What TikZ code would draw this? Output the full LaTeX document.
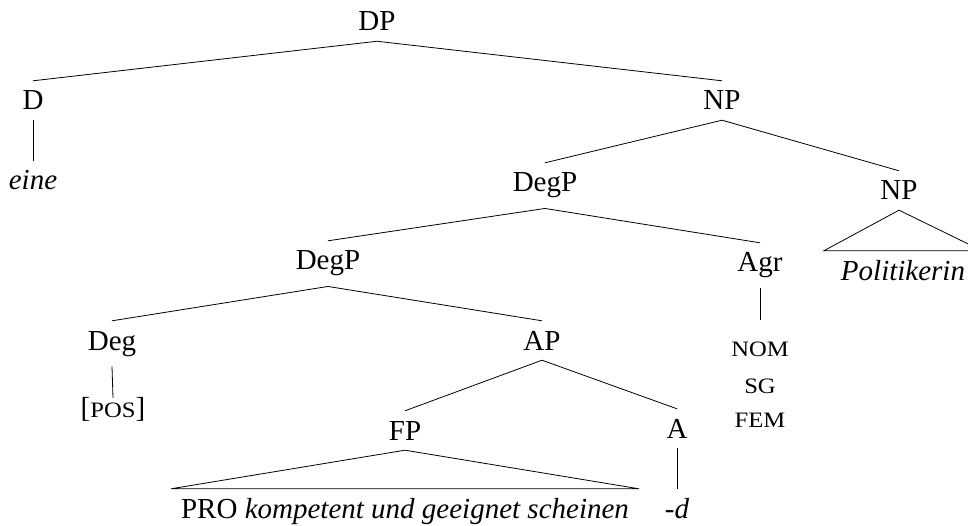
\documentclass[tikz,border=0pt]{standalone}
\usepackage{fontspec}
\setmainfont{Liberation Serif}[
  UprightFont={Liberation Serif},
  ItalicFont={Liberation Serif Italic},
  BoldFont={Liberation Serif Bold}]
\usepackage{graphicx}
% small capitals: scaled-down upper case, widened a little
\newcommand{\smcap}[1]{\scalebox{1.12}[1]{\fontsize{22}{25}\selectfont #1}}
\begin{document}
\begin{tikzpicture}[x=1pt,y=-1pt,
  font=\fontsize{29}{34}\selectfont,
  lbl/.style={anchor=base,text height=19pt,inner xsep=0pt,inner ysep=10pt},
  feat/.style={anchor=base,text height=14pt,inner xsep=0pt,inner ysep=0pt},
  branch/.style={draw=black,line width=0.8pt},
  roof/.style={draw=black,line width=0.8pt,line join=miter}]
\useasboundingbox (0,0) rectangle (968,526);

% labels
\node[lbl] (dp) at (377,31) {DP};
\node[lbl] (d) at (33,110) {D};
\node[lbl] (np1) at (722,110) {NP};
\node[lbl] (eine) at (33,190) {\textit{eine}};
\node[lbl] (degp1) at (545,192) {DegP};
\node[lbl] (np2) at (899,200) {NP};
\node[lbl,inner xsep=17pt] (pol) at (903,280) {\textit{Politikerin}};
\node[lbl] (degp2) at (328,270) {DegP};
\node[lbl] (agr) at (760,272) {Agr};
\node[feat,text height=26pt,inner ysep=10pt] (nom) at (760,356) {\smcap{NOM}};
\node[feat] (sg) at (760,393) {\smcap{SG}};
\node[feat] (fem) at (760,427) {\smcap{FEM}};
\node[lbl] (deg) at (112,350) {Deg};
\node[lbl] (ap) at (542,350) {AP};
\node[lbl,inner ysep=0pt] (pos) at (113,417) {[\smcap{POS}]};
\node[lbl] (fp) at (405,440) {FP};
\node[lbl] (a) at (677,438) {A};
\node[lbl,inner xsep=10pt] (pro) at (405,518) {PRO \textit{kompetent und geeignet scheinen}};
\node[lbl] (dd) at (677,518) {\textit{-d}};

% branches
\draw[branch] (d.north) -- (dp.south) -- (np1.north);
\draw[branch] (d.south) -- (eine.north);
\draw[branch] (degp1.north) -- (np1.south) -- (np2.north);
\draw[branch] (degp2.north) -- (degp1.south) -- (agr.north);
\draw[branch] (agr.south) -- (nom.north);
\draw[branch] (deg.north) -- (degp2.south) -- (ap.north);
\draw[branch] (deg.south) -- (pos.north);
\draw[branch] (fp.north) -- (ap.south) -- (a.north);
\draw[branch] (a.south) -- (dd.north);

% roofs over unanalysed constituents
\draw[roof] (np2.south) -- (pol.north west) -- (pol.north east) -- cycle;
\draw[roof] (fp.south) -- (pro.north west) -- (pro.north east) -- cycle;
\end{tikzpicture}
\end{document}
